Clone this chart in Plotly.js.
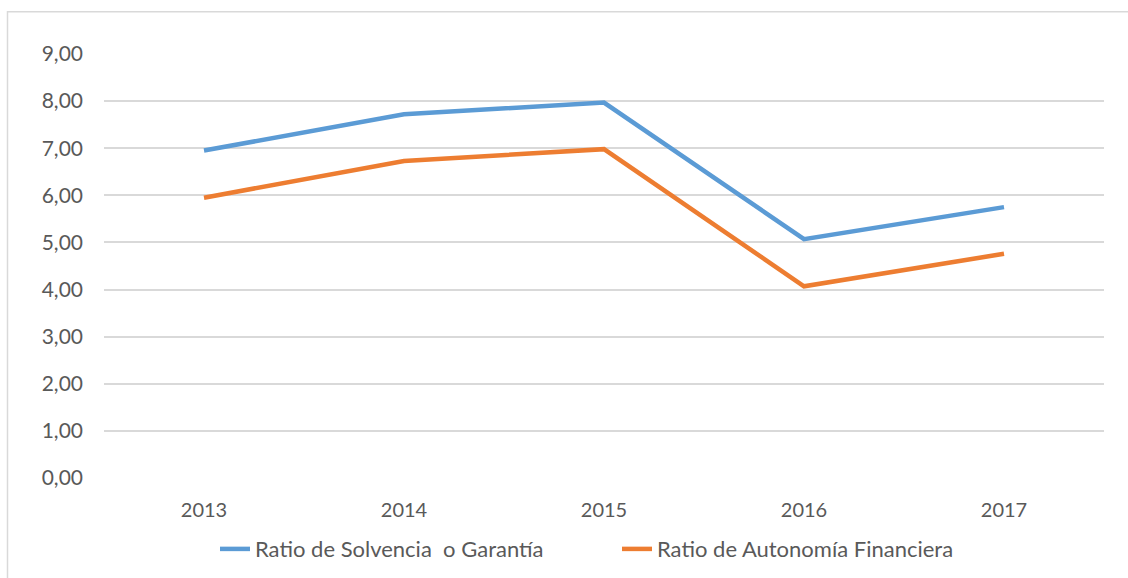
<!DOCTYPE html>
<html>
<head>
<meta charset="utf-8">
<script src="https://cdn.plot.ly/plotly-3.0.1.min.js"></script>
<style>
  html, body { margin: 0; padding: 0; background: #ffffff; }
  #chart { width: 1128px; height: 578px; }
</style>
</head>
<body>
<div id="chart"></div>
<script>
const years = ['2013', '2014', '2015', '2016', '2017'];
const solvencia = [6.95, 7.72, 7.97, 5.07, 5.75];
const autonomia = [5.95, 6.73, 6.98, 4.07, 4.76];
const seriesNames = ['Ratio de Solvencia \u00a0o Garantía', 'Ratio de Autonomía Financiera'];
const yTicks = [0, 1, 2, 3, 4, 5, 6, 7, 8, 9];

const FONT = 'Lato, "Open Sans", sans-serif';

const traces = [
  {
    x: years, y: solvencia, name: seriesNames[0], type: 'scatter', mode: 'lines',
    line: { color: '#5b9bd5', width: 4.5, shape: 'linear' }, hoverinfo: 'skip'
  },
  {
    x: years, y: autonomia, name: seriesNames[1], type: 'scatter', mode: 'lines',
    line: { color: '#ed7d31', width: 4.5, shape: 'linear' }, hoverinfo: 'skip'
  }
];

const layout = {
  width: 1128, height: 578,
  margin: { l: 104, r: 24, t: 54, b: 100 },
  paper_bgcolor: '#ffffff', plot_bgcolor: '#ffffff',
  separators: ',.',
  font: { family: FONT, size: 20, color: '#595959' },
  showlegend: true,
  legend: {
    orientation: 'h', x: 0.111, xanchor: 'left',
    yref: 'container', y: 0.05, yanchor: 'middle',
    font: { family: FONT, size: 22, color: '#595959' },
    entrywidth: 357, entrywidthmode: 'pixels',
    bgcolor: 'rgba(0,0,0,0)'
  },
  xaxis: {
    type: 'category', range: [-0.5, 4.5], showgrid: false, zeroline: false,
    showline: false, ticks: '', ticklabelstandoff: 18,
    tickfont: { family: FONT, size: 20, color: '#595959' }, fixedrange: true
  },
  yaxis: {
    range: [0, 9], tickvals: yTicks, tickformat: '.2f', showgrid: true,
    gridcolor: '#d9d9d9', gridwidth: 2, zeroline: false, showline: false,
    ticks: '', ticklabelstandoff: 20,
    tickfont: { family: FONT, size: 21, color: '#595959' }, fixedrange: true
  },
  shapes: [
    {
      type: 'rect', xref: 'paper', yref: 'paper',
      x0: -0.0965, x1: 1.05, y0: -0.3, y1: 1.0995,
      line: { color: '#d9d9d9', width: 1.5 }, fillcolor: 'rgba(0,0,0,0)', layer: 'below'
    }
  ]
};

Plotly.newPlot('chart', traces, layout, { displayModeBar: false, staticPlot: true });
</script>
</body>
</html>
